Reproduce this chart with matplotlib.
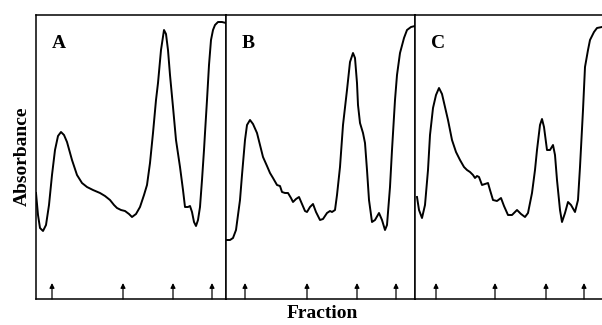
import matplotlib
matplotlib.use("Agg")
import matplotlib.pyplot as plt

# elution profiles, arbitrary absorbance units (0 = bottom of the frame)
frac_a = [0, 2, 4, 7, 10, 13, 16, 19, 22, 25, 28, 31, 36, 41, 46, 51, 57, 64, 69, 74,
          78, 81, 85, 89, 93, 96, 100, 104, 108, 111, 114, 117, 120, 122, 125, 128, 130, 132, 134, 137,
          140, 144, 147, 149, 152, 154, 156, 158, 160, 162, 164, 166, 168, 169, 171, 173, 175, 177, 179, 182,
          186, 190]
abs_a = [106, 84, 71, 68, 74, 94, 124, 149, 163, 167, 164, 157, 139, 124, 116, 112, 109, 106, 103, 99,
         94, 91, 89, 88, 85, 82, 85, 92, 104, 114, 136, 166, 199, 216, 249, 269, 265, 249, 224, 192,
         159, 132, 109, 92, 92, 93, 87, 77, 73, 79, 92, 119, 149, 166, 199, 234, 259, 269, 274, 277,
         277, 276]

frac_b = [1, 4, 7, 10, 12, 14, 16, 19, 21, 24, 27, 31, 34, 37, 41, 44, 47, 51, 54, 56,
          59, 62, 65, 67, 70, 73, 76, 79, 81, 84, 87, 90, 94, 97, 101, 104, 106, 109, 111, 114,
          117, 121, 124, 127, 129, 131, 132, 134, 137, 139, 141, 143, 146, 149, 153, 156, 159, 161, 164, 166,
          169, 171, 174, 178, 181, 185, 189]
abs_b = [59, 59, 61, 69, 84, 99, 124, 159, 174, 179, 175, 166, 154, 142, 133, 126, 121, 114, 113, 107,
         106, 106, 101, 97, 100, 102, 95, 88, 87, 92, 95, 87, 79, 80, 86, 88, 87, 89, 104, 132,
         174, 209, 237, 246, 241, 216, 194, 176, 166, 156, 129, 99, 77, 79, 86, 79, 69, 74, 112, 149,
         199, 224, 246, 261, 269, 272, 273]

frac_c = [2, 4, 7, 10, 13, 15, 18, 21, 24, 27, 30, 33, 37, 41, 45, 49, 52, 55, 58, 60,
          62, 64, 67, 70, 73, 75, 78, 82, 86, 89, 93, 97, 102, 106, 110, 113, 117, 120, 122, 125,
          127, 129, 132, 135, 138, 140, 142, 145, 147, 150, 153, 156, 160, 163, 165, 168, 170, 173, 175, 179,
          182, 187]
abs_c = [102, 89, 81, 94, 129, 164, 191, 204, 211, 205, 192, 179, 159, 147, 139, 132, 129, 127, 124, 121,
         123, 122, 114, 115, 116, 109, 99, 98, 101, 93, 84, 84, 89, 85, 82, 86, 106, 129, 149, 174,
         180, 172, 149, 149, 154, 144, 119, 89, 77, 86, 97, 94, 87, 99, 132, 189, 232, 249, 259, 267,
         271, 272]

# marker fractions (arrows)
arrows_a = [16, 87, 137, 176]
arrows_b = [19, 81, 131, 170]
arrows_c = [21, 80, 131, 169]

labels = ["A", "B", "C"]

W, H = 602, 325
fig = plt.figure(figsize=(W / 100, H / 100), dpi=100)

bottom, top = 299, 15
panels = [
    (36, 190, frac_a, abs_a, arrows_a),
    (226, 189, frac_b, abs_b, arrows_b),
    (415, 187, frac_c, abs_c, arrows_c),
]

serif = ["Liberation Serif", "DejaVu Serif"]

for i, (left, width, xs, ys, arr) in enumerate(panels):
    ax = fig.add_axes([left / W, (H - bottom) / H, width / W, (bottom - top) / H])
    ax.plot(xs, ys, color="black", lw=1.4, solid_joinstyle="round")
    ax.set_xlim(0, width)
    ax.set_ylim(0, bottom - top)
    ax.set_xticks([])
    ax.set_yticks([])
    for s in ax.spines.values():
        s.set_linewidth(1.1)
    if i == 2:
        ax.spines["right"].set_visible(False)
    for a in arr:
        ax.annotate("", xy=(a, 16), xytext=(a, 0),
                    arrowprops=dict(arrowstyle="-|>", color="black", lw=0.9,
                                    mutation_scale=7, shrinkA=0, shrinkB=0))
    ax.text(16, 256, labels[i], fontsize=14, fontweight="bold", family=serif,
            ha="left", va="center")

fig.text(22 / W, 1 - 156 / H, "Absorbance", rotation=90, fontsize=14,
         fontweight="bold", family=serif, ha="center", va="center")
fig.text(322 / W, 1 - 313 / H, "Fraction", fontsize=14,
         fontweight="bold", family=serif, ha="center", va="center")

fig.savefig("out.png", dpi=100)
